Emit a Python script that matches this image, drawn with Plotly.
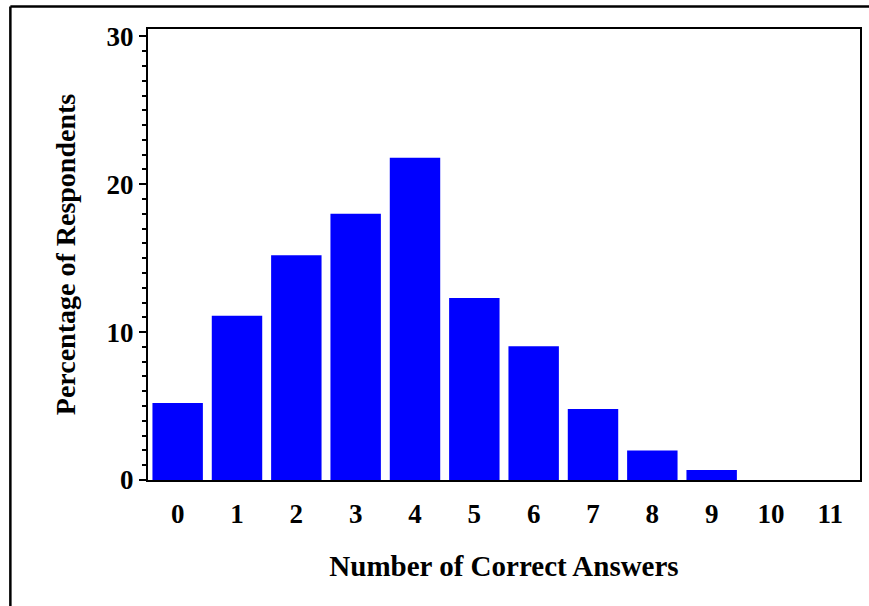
import plotly.graph_objects as go

categories = ["0", "1", "2", "3", "4", "5", "6", "7", "8", "9", "10", "11"]
percentages = [5.2, 11.1, 15.2, 18.0, 21.8, 12.3, 9.05, 4.8, 2.0, 0.68, 0, 0]
y_tick_vals = [0, 10, 20, 30]

FONT = "Liberation Serif"

fig = go.Figure(
    go.Bar(
        x=categories,
        y=percentages,
        marker=dict(color="#0000FF", line=dict(width=0)),
    )
)

fig.update_layout(
    width=869,
    height=606,
    margin=dict(l=148, r=7, t=29, b=126),
    paper_bgcolor="white",
    plot_bgcolor="white",
    bargap=0.15,
    showlegend=False,
    font=dict(family=FONT, color="black"),
)

fig.update_xaxes(
    type="category",
    showline=True,
    linecolor="black",
    linewidth=2,
    mirror=True,
    ticks="",
    showgrid=False,
    tickfont=dict(family=FONT, size=27, weight="bold", color="black"),
    ticklabelstandoff=9,
    title=dict(
        text="Number of Correct Answers",
        font=dict(family=FONT, size=29, weight="bold", color="black"),
        standoff=27,
    ),
)

fig.update_yaxes(
    range=[0, 30.5],
    tickvals=y_tick_vals,
    showline=True,
    linecolor="black",
    linewidth=2,
    mirror=True,
    ticks="outside",
    ticklen=7,
    tickwidth=1.5,
    tickcolor="black",
    showgrid=False,
    zeroline=False,
    minor=dict(ticks="outside", dtick=1, ticklen=4, tickwidth=1.5, tickcolor="black", showgrid=False),
    tickfont=dict(family=FONT, size=27, weight="bold", color="black"),
    title=dict(
        text="Percentage of Respondents",
        font=dict(family=FONT, size=28, weight="bold", color="black"),
        standoff=23,
    ),
)

# outer frame (left and top edges visible in the cropped image)
fig.add_shape(type="line", xref="paper", yref="paper",
              x0=-0.1933, x1=-0.1933, y0=-0.5, y1=1.0499,
              line=dict(color="black", width=2.5))
fig.add_shape(type="line", xref="paper", yref="paper",
              x0=-0.1933, x1=1.2, y0=1.0499, y1=1.0499,
              line=dict(color="black", width=2.5))

fig.write_html("out.html", config={"displayModeBar": False},
               post_script="document.body.style.margin='0';")
